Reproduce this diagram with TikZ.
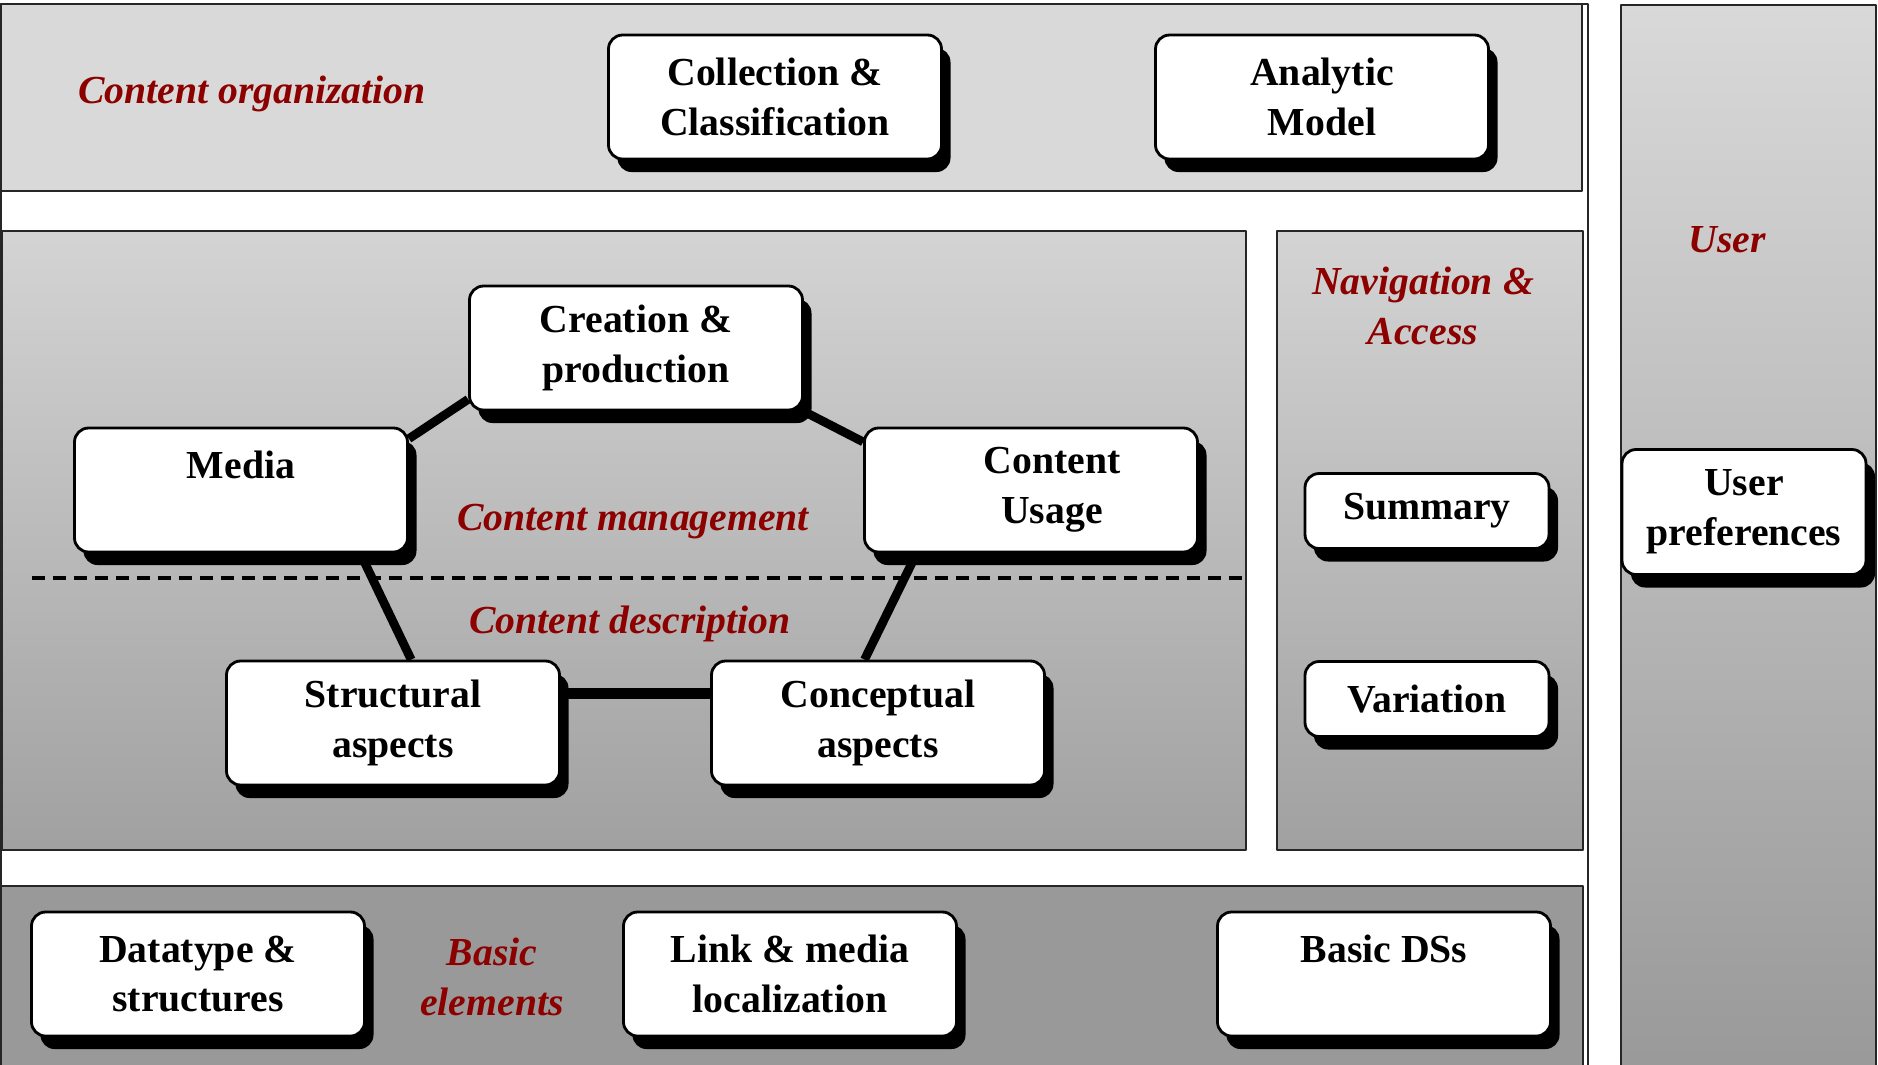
\documentclass[tikz,border=0pt]{standalone}
\usepackage{fontspec}
\setmainfont{Liberation Serif}
\usetikzlibrary{shadows}

\definecolor{labred}{RGB}{140,0,0}
\definecolor{bandgray}{gray}{0.85}
\definecolor{panelTop}{gray}{0.83}
\definecolor{panelBottom}{gray}{0.63}
\definecolor{baseGray}{gray}{0.60}
\newcommand{\boxfont}{\fontsize{11.3pt}{14.2pt}\selectfont\bfseries}
\newcommand{\labfont}{\fontsize{11.3pt}{14.4pt}\selectfont\bfseries\itshape}

\begin{document}
\begin{tikzpicture}[line join = round, box/.style = {draw = black, line width = 0.8pt, fill = white, rounded corners = 4pt, align = center, minimum width = 3.33cm, minimum height = 1.24cm, font = \boxfont, drop shadow = {shadow xshift = 0.09cm, shadow yshift = -0.13cm, fill = black, opacity = 1}}, smallbox/.style = {box, minimum width = 2.44cm, minimum height = 0.75cm}, lab/.style = {text = labred, align = center, font = \labfont}, panel/.style = {draw = black!85, line width = 0.8pt}, link/.style = {line width = 2.5pt}]
    \useasboundingbox (0,0) rectangle (18.78,-10.64);
    \draw[panel, fill = white] (0.01,-0.04) rectangle (15.88,-10.75);
    \draw[panel, fill = bandgray] (0.01,-0.04) rectangle (15.82,-1.91);
    \shadedraw[panel, top color = panelTop, bottom color = panelBottom] (0.02,-2.31) rectangle (12.46,-8.50);
    \shadedraw[panel, top color = panelTop, bottom color = panelBottom] (12.77,-2.31) rectangle (15.83,-8.50);
    \draw[panel, fill = baseGray] (0.01,-8.86) rectangle (15.83,-10.75);
    \shadedraw[panel, top color = bandgray, bottom color = baseGray] (16.21,-0.05) rectangle (18.76,-10.75);
    \draw[line width = 0.9pt, dash pattern = on 0.13cm off 0.08cm] (0.32,-5.78) -- (12.46,-5.78);

    \node[lab] (orglab) at (2.52,-0.94) {Content organization};
    \node[lab] (mgmtlab) at (6.33,-5.22) {Content management};
    \node[lab] (desclab) at (6.30,-6.24) {Content description};
    \node[lab] (navlab) at (14.23,-3.06) {Navigation \&\\Access};
    \node[lab] (userlab) at (17.27,-2.40) {User};
    \node[lab] (basiclab) at (4.92,-9.77) {Basic\\elements};

    \node[box] (collect) at (7.75,-0.97) {Collection \&\\Classification};
    \node[box] (analytic) at (13.22,-0.97) {Analytic\\Model};
    \node[box] (creation) at (6.36,-3.48) {Creation \&\\production};
    \node[box] (media) at (2.41,-4.90) {Media\\\mbox{}};
    \node[box] (usage) at (10.31,-4.90) {\hspace*{0.42cm}Content\\\hspace*{0.42cm}Usage};
    \node[box] (structural) at (3.93,-7.23) {Structural\\aspects};
    \node[box] (conceptual) at (8.78,-7.23) {Conceptual\\aspects};
    \node[smallbox] (summary) at (14.27,-5.11) {Summary};
    \node[smallbox] (variation) at (14.27,-6.99) {Variation};
    \node[box, minimum width = 2.44cm, minimum height = 1.25cm] (userpref) at (17.44,-5.12) {User\\preferences};
    \node[box] (datatype) at (1.98,-9.74) {Datatype \&\\structures};
    \node[box] (linkmedia) at (7.90,-9.74) {Link \& media\\localization};
    \node[box] (basicds) at (13.84,-9.74) {Basic DSs\\\mbox{}};

    \draw[link] (media.17) -- (creation.197);
    \draw[link] (creation.south east) -- (usage.164);
    \draw[link] (media.-28) -- (structural.74);
    \draw[link] (usage.209) -- (conceptual.102);
    \draw[link, line width = 3pt] (structural.10) -- (conceptual.170);
\end{tikzpicture}
\end{document}
